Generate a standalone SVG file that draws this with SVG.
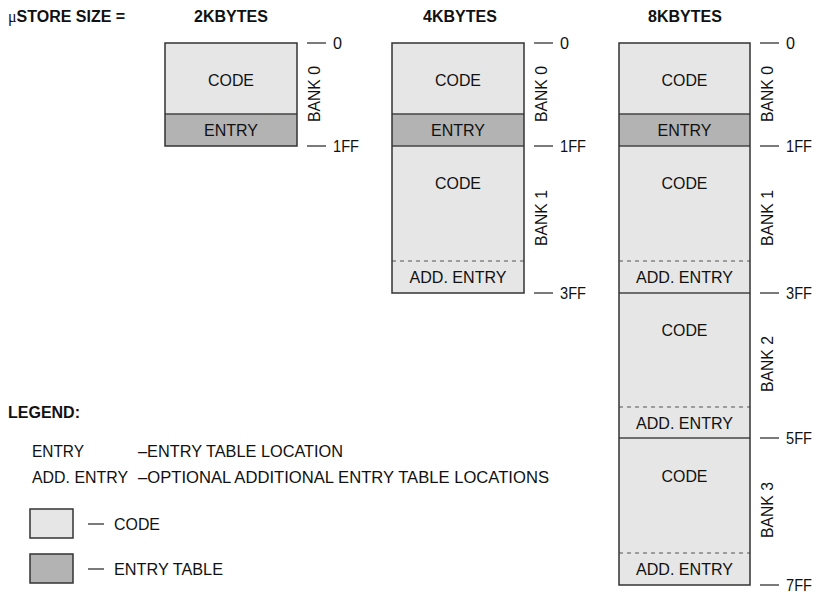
<svg xmlns="http://www.w3.org/2000/svg" width="819" height="605" viewBox="0 0 819 605">
<style>
  text { font-family: "Liberation Sans", Arial, sans-serif; font-size: 17px; fill: #111; }
  .t { text-anchor: middle; }
  .h { font-weight: bold; font-size: 16px; }
  .code { fill: #e6e6e6; stroke: none; }
  .entry { fill: #b3b3b3; stroke: none; }
  .frame { fill: none; stroke: #333; stroke-width: 1.5; }
  .sep { stroke: #444; stroke-width: 1.5; }
  .dash { stroke: #555; stroke-width: 1.2; stroke-dasharray: 4 4; }
  .tick { stroke: #222; stroke-width: 1.2; }
</style>
<rect width="819" height="605" fill="#fff"/>

<g id="headers">
  <text x="8" y="22" class="h"><tspan style="font-family:'Liberation Serif',serif;font-weight:normal">μ</tspan>STORE SIZE =</text>
  <text x="231" y="22" class="t h">2KBYTES</text>
  <text x="460" y="22" class="t h">4KBYTES</text>
  <text x="685" y="22" class="t h">8KBYTES</text>
</g>

<g id="store-2k">
  <rect x="165" y="43" width="132" height="71" class="code"/>
  <rect x="165" y="114" width="132" height="32" class="entry"/>
  <line x1="165" y1="114" x2="297" y2="114" class="sep"/>
  <rect x="165" y="43" width="132" height="103" class="frame"/>
  <text x="231" y="86" class="t" textLength="46" lengthAdjust="spacingAndGlyphs">CODE</text>
  <text x="231" y="136" class="t" textLength="54" lengthAdjust="spacingAndGlyphs">ENTRY</text>
  <text transform="translate(320,94) rotate(-90)" class="t" textLength="56" lengthAdjust="spacingAndGlyphs">BANK 0</text>
</g>

<g id="store-4k">
  <rect x="392" y="43" width="132" height="71" class="code"/>
  <rect x="392" y="114" width="132" height="32" class="entry"/>
  <rect x="392" y="146" width="132" height="147" class="code"/>
  <line x1="392" y1="114" x2="524" y2="114" class="sep"/>
  <line x1="392" y1="146" x2="524" y2="146" class="sep"/>
  <line x1="392" y1="261" x2="524" y2="261" class="dash"/>
  <rect x="392" y="43" width="132" height="250" class="frame"/>
  <text x="458" y="86" class="t" textLength="46" lengthAdjust="spacingAndGlyphs">CODE</text>
  <text x="458" y="136" class="t" textLength="54" lengthAdjust="spacingAndGlyphs">ENTRY</text>
  <text x="458" y="189" class="t" textLength="46" lengthAdjust="spacingAndGlyphs">CODE</text>
  <text x="458" y="283" class="t" textLength="97" lengthAdjust="spacingAndGlyphs">ADD. ENTRY</text>
  <text transform="translate(547,94) rotate(-90)" class="t" textLength="56" lengthAdjust="spacingAndGlyphs">BANK 0</text>
  <text transform="translate(547,218) rotate(-90)" class="t" textLength="56" lengthAdjust="spacingAndGlyphs">BANK 1</text>
</g>

<g id="store-8k">
  <rect x="619" y="43" width="131" height="71" class="code"/>
  <rect x="619" y="114" width="131" height="32" class="entry"/>
  <rect x="619" y="146" width="131" height="439" class="code"/>
  <line x1="619" y1="114" x2="750" y2="114" class="sep"/>
  <line x1="619" y1="146" x2="750" y2="146" class="sep"/>
  <line x1="619" y1="261" x2="750" y2="261" class="dash"/>
  <line x1="619" y1="293" x2="750" y2="293" class="sep"/>
  <line x1="619" y1="407" x2="750" y2="407" class="dash"/>
  <line x1="619" y1="438" x2="750" y2="438" class="sep"/>
  <line x1="619" y1="553" x2="750" y2="553" class="dash"/>
  <rect x="619" y="43" width="131" height="542" class="frame"/>
  <text x="684.5" y="86" class="t" textLength="46" lengthAdjust="spacingAndGlyphs">CODE</text>
  <text x="684.5" y="136" class="t" textLength="54" lengthAdjust="spacingAndGlyphs">ENTRY</text>
  <text x="684.5" y="189" class="t" textLength="46" lengthAdjust="spacingAndGlyphs">CODE</text>
  <text x="684.5" y="283" class="t" textLength="97" lengthAdjust="spacingAndGlyphs">ADD. ENTRY</text>
  <text x="684.5" y="336" class="t" textLength="46" lengthAdjust="spacingAndGlyphs">CODE</text>
  <text x="684.5" y="429" class="t" textLength="97" lengthAdjust="spacingAndGlyphs">ADD. ENTRY</text>
  <text x="684.5" y="482" class="t" textLength="46" lengthAdjust="spacingAndGlyphs">CODE</text>
  <text x="684.5" y="575" class="t" textLength="97" lengthAdjust="spacingAndGlyphs">ADD. ENTRY</text>
  <text transform="translate(773,94) rotate(-90)" class="t" textLength="56" lengthAdjust="spacingAndGlyphs">BANK 0</text>
  <text transform="translate(773,218) rotate(-90)" class="t" textLength="56" lengthAdjust="spacingAndGlyphs">BANK 1</text>
  <text transform="translate(773,364) rotate(-90)" class="t" textLength="56" lengthAdjust="spacingAndGlyphs">BANK 2</text>
  <text transform="translate(773,510) rotate(-90)" class="t" textLength="56" lengthAdjust="spacingAndGlyphs">BANK 3</text>
</g>

<g id="connectors">
  <line x1="307" y1="43" x2="326" y2="43" class="tick"/>
  <line x1="307" y1="146" x2="326" y2="146" class="tick"/>
  <line x1="534" y1="43" x2="553" y2="43" class="tick"/>
  <line x1="534" y1="146" x2="553" y2="146" class="tick"/>
  <line x1="534" y1="293" x2="553" y2="293" class="tick"/>
  <line x1="760" y1="43" x2="779" y2="43" class="tick"/>
  <line x1="760" y1="146" x2="779" y2="146" class="tick"/>
  <line x1="760" y1="293" x2="779" y2="293" class="tick"/>
  <line x1="760" y1="438" x2="779" y2="438" class="tick"/>
  <line x1="760" y1="585" x2="779" y2="585" class="tick"/>
  <line x1="88" y1="524" x2="104" y2="524" class="tick"/>
  <line x1="88" y1="569" x2="104" y2="569" class="tick"/>
</g>

<g id="addresses">
  <text x="333" y="49" textLength="9" lengthAdjust="spacingAndGlyphs">0</text>
  <text x="333" y="152" textLength="26" lengthAdjust="spacingAndGlyphs">1FF</text>
  <text x="560" y="49" textLength="9" lengthAdjust="spacingAndGlyphs">0</text>
  <text x="560" y="152" textLength="26" lengthAdjust="spacingAndGlyphs">1FF</text>
  <text x="560" y="299" textLength="26" lengthAdjust="spacingAndGlyphs">3FF</text>
  <text x="786" y="49" textLength="9" lengthAdjust="spacingAndGlyphs">0</text>
  <text x="786" y="152" textLength="26" lengthAdjust="spacingAndGlyphs">1FF</text>
  <text x="786" y="299" textLength="26" lengthAdjust="spacingAndGlyphs">3FF</text>
  <text x="786" y="444" textLength="26" lengthAdjust="spacingAndGlyphs">5FF</text>
  <text x="786" y="591" textLength="26" lengthAdjust="spacingAndGlyphs">7FF</text>
</g>

<g id="legend">
  <text x="8" y="418" class="h">LEGEND:</text>
  <text x="32" y="457" textLength="52" lengthAdjust="spacingAndGlyphs">ENTRY</text>
  <text x="138" y="457" textLength="205" lengthAdjust="spacingAndGlyphs">–ENTRY TABLE LOCATION</text>
  <text x="32" y="483" textLength="96" lengthAdjust="spacingAndGlyphs">ADD. ENTRY</text>
  <text x="138" y="483" textLength="411" lengthAdjust="spacingAndGlyphs">–OPTIONAL ADDITIONAL ENTRY TABLE LOCATIONS</text>
  <g id="legend-code">
    <rect x="30" y="509" width="43" height="29" class="code"/>
    <rect x="30" y="509" width="43" height="29" class="frame"/>
    <text x="114" y="530" textLength="46" lengthAdjust="spacingAndGlyphs">CODE</text>
  </g>
  <g id="legend-entry">
    <rect x="30" y="554" width="43" height="29" class="entry"/>
    <rect x="30" y="554" width="43" height="29" class="frame"/>
    <text x="114" y="575" textLength="109" lengthAdjust="spacingAndGlyphs">ENTRY TABLE</text>
  </g>
</g>
</svg>
